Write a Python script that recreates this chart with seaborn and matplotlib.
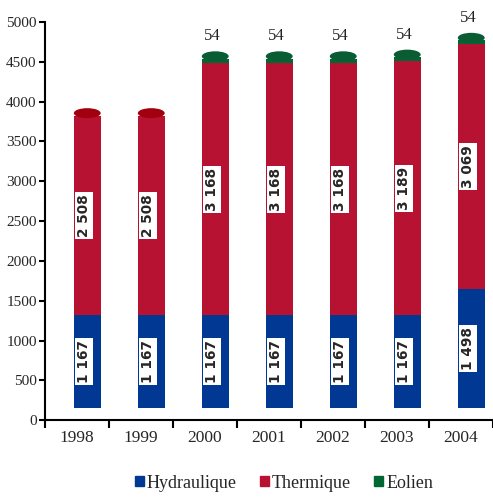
import matplotlib
matplotlib.use('Agg')
import matplotlib.pyplot as plt
import seaborn as sns
import pandas as pd
import numpy as np
from matplotlib.patches import Ellipse, Patch

# données (MW)
annees = ['1998', '1999', '2000', '2001', '2002', '2003', '2004']
hydraulique = [1167, 1167, 1167, 1167, 1167, 1167, 1498]
thermique = [2508, 2508, 3168, 3168, 3168, 3189, 3069]
eolien = [0, 0, 54, 54, 54, 54, 54]

# couleurs
c_hydro = '#003894'
c_thermo = '#B81233'
c_eol = '#006633'
c_cap_thermo = '#A3000F'
c_cap_eol = '#0A5C33'

sns.set_theme(style='ticks')
plt.rcParams['font.family'] = ['Liberation Serif', 'DejaVu Serif']

fig = plt.figure(figsize=(4.93, 4.99), dpi=100)
ax = fig.add_axes([0.0913, 0.158, 0.9087, 0.798])

base = 150      # effet 3D : les cylindres commencent au-dessus de l'axe
dx = 0.16       # décalage 3D des cylindres vers la droite
largeur = 0.42

df = pd.DataFrame({'annee': annees, 'hydro': hydraulique,
                   'thermo': thermique, 'eol': eolien})
bas_hydro = np.full(len(annees), base)
bas_thermo = bas_hydro + np.array(hydraulique)
bas_eol = bas_thermo + np.array(thermique)
sommet = bas_eol + np.array(eolien)

sns.barplot(data=df, x='annee', y='hydro', bottom=bas_hydro, color=c_hydro,
            width=largeur, saturation=1, errorbar=None, ax=ax, linewidth=0)
sns.barplot(data=df, x='annee', y='thermo', bottom=bas_thermo, color=c_thermo,
            width=largeur, saturation=1, errorbar=None, ax=ax, linewidth=0)
sns.barplot(data=df, x='annee', y='eol', bottom=bas_eol, color=c_eol,
            width=largeur, saturation=1, errorbar=None, ax=ax, linewidth=0)

for p in ax.patches:
    p.set_x(p.get_x() + dx)

# couvercles des cylindres
for i in range(len(annees)):
    couleur = c_cap_eol if eolien[i] > 0 else c_cap_thermo
    ax.add_patch(Ellipse((i + dx, sommet[i] + 30), largeur, 125,
                         facecolor=couleur, edgecolor='none', zorder=3))

# étiquettes
boite = dict(boxstyle='square,pad=0.15', fc='white', ec='none')
for i in range(len(annees)):
    for bas, val in [(bas_hydro[i], hydraulique[i]), (bas_thermo[i], thermique[i])]:
        txt = f'{val:,}'.replace(',', ' ')
        ax.text(i + dx - 0.05, bas + val / 2, txt, rotation=90, ha='center', va='center',
                family='DejaVu Sans', fontweight='bold', fontsize=9.8,
                bbox=boite, zorder=4)
    if eolien[i] > 0:
        ax.text(i + dx - 0.04, sommet[i] + 230, str(eolien[i]), ha='center',
                va='baseline', fontsize=12, color='#222222')

ax.set_ylim(0, 5000)
ax.set_xlim(-0.5, 6.5)
ax.set_yticks(range(0, 5001, 500))
ax.set_yticklabels([str(v) for v in range(0, 5001, 500)], fontsize=11)
ax.set_xticks(range(len(annees)))
ax.set_xticklabels(annees, fontsize=12.5)
ax.set_xticks(np.arange(-0.5, 7, 1), minor=True)
ax.tick_params(axis='x', which='major', length=0, pad=7)
ax.tick_params(axis='x', which='minor', length=6, width=1.5, color='black')
ax.tick_params(axis='y', length=4, width=1.5, color='black', pad=2)
ax.set_xlabel('')
ax.set_ylabel('')
for s in ['top', 'right']:
    ax.spines[s].set_visible(False)
for s in ['left', 'bottom']:
    ax.spines[s].set_linewidth(1.5)
    ax.spines[s].set_color('black')

poignees = [Patch(color=c_hydro), Patch(color=c_thermo), Patch(color=c_eol)]
fig.legend(poignees, ['Hydraulique', 'Thermique', 'Eolien'], loc='center',
           bbox_to_anchor=(0.576, 0.032), ncol=3, frameon=False,
           handlelength=0.5, handleheight=0.5, handletextpad=0.15,
           columnspacing=1.3, fontsize=13)

fig.savefig('out.png', dpi=100)
